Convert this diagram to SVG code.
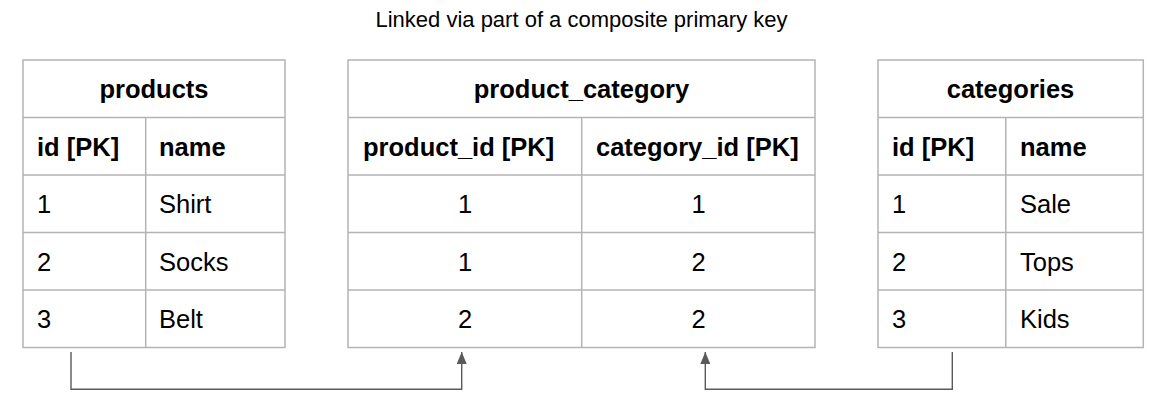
<svg xmlns="http://www.w3.org/2000/svg" width="1163" height="411" viewBox="0 0 1163 411">
<style>
  .grid { fill: #ffffff; stroke: #b4b4b4; stroke-width: 1.5; }
  .ln { stroke: #b4b4b4; stroke-width: 1.5; fill: none; }
  .hd { font-family: "Liberation Sans", Arial, sans-serif; font-weight: bold; font-size: 25.5px; fill: #000; }
  .tx { font-family: "Liberation Sans", Arial, sans-serif; font-size: 25.5px; fill: #000; }
  .ttl { font-family: "Liberation Sans", Arial, sans-serif; font-size: 22px; fill: #000; }
  .c { text-anchor: middle; }
  .conn { stroke: #5a5a5a; stroke-width: 1.4; fill: none; }
</style>
<defs>
  <marker id="arrow" viewBox="0 0 12 10" refX="12" refY="5" markerWidth="12" markerHeight="10" markerUnits="userSpaceOnUse" orient="auto">
    <path d="M0,0 L12,5 L0,10 Z" fill="#5a5a5a"/>
  </marker>
</defs>
<rect width="1163" height="411" fill="#ffffff"/>
<text id="title" class="ttl c" x="581.5" y="26.5">Linked via part of a composite primary key</text>

<g id="products">
  <rect class="grid" x="23" y="60" width="262" height="287.5"/>
  <path class="ln" d="M23,117.5H285 M23,175H285 M23,232.5H285 M23,290H285 M145.7,117.5V347.5"/>
  <text class="hd c" x="154" y="98">products</text>
  <text class="hd" x="37" y="155.5">id [PK]</text>
  <text class="hd" x="159" y="155.5">name</text>
  <text class="tx" x="37" y="213">1</text>
  <text class="tx" x="159" y="213">Shirt</text>
  <text class="tx" x="37" y="270.5">2</text>
  <text class="tx" x="159" y="270.5">Socks</text>
  <text class="tx" x="37" y="328">3</text>
  <text class="tx" x="159" y="328">Belt</text>
</g>

<g id="product_category">
  <rect class="grid" x="348" y="60" width="467" height="287.5"/>
  <path class="ln" d="M348,117.5H815 M348,175H815 M348,232.5H815 M348,290H815 M581.7,117.5V347.5"/>
  <text class="hd c" x="581.5" y="98">product_category</text>
  <text class="hd" x="363" y="155.5">product_id [PK]</text>
  <text class="hd" x="596" y="155.5">category_id [PK]</text>
  <text class="tx c" x="465" y="213">1</text>
  <text class="tx c" x="698.5" y="213">1</text>
  <text class="tx c" x="465" y="270.5">1</text>
  <text class="tx c" x="698.5" y="270.5">2</text>
  <text class="tx c" x="465" y="328">2</text>
  <text class="tx c" x="698.5" y="328">2</text>
</g>

<g id="categories">
  <rect class="grid" x="878" y="60" width="265.3" height="287.5"/>
  <path class="ln" d="M878,117.5H1143.3 M878,175H1143.3 M878,232.5H1143.3 M878,290H1143.3 M1005.8,117.5V347.5"/>
  <text class="hd c" x="1010.5" y="98">categories</text>
  <text class="hd" x="892" y="155.5">id [PK]</text>
  <text class="hd" x="1020" y="155.5">name</text>
  <text class="tx" x="892" y="213">1</text>
  <text class="tx" x="1020" y="213">Sale</text>
  <text class="tx" x="892" y="270.5">2</text>
  <text class="tx" x="1020" y="270.5">Tops</text>
  <text class="tx" x="892" y="328">3</text>
  <text class="tx" x="1020" y="328">Kids</text>
</g>

<g id="connectors">
  <path class="conn" d="M71,352 V389.3 H461.7 V352" marker-end="url(#arrow)"/>
  <path class="conn" d="M952.3,352 V389.3 H705.3 V352" marker-end="url(#arrow)"/>
</g>
</svg>
